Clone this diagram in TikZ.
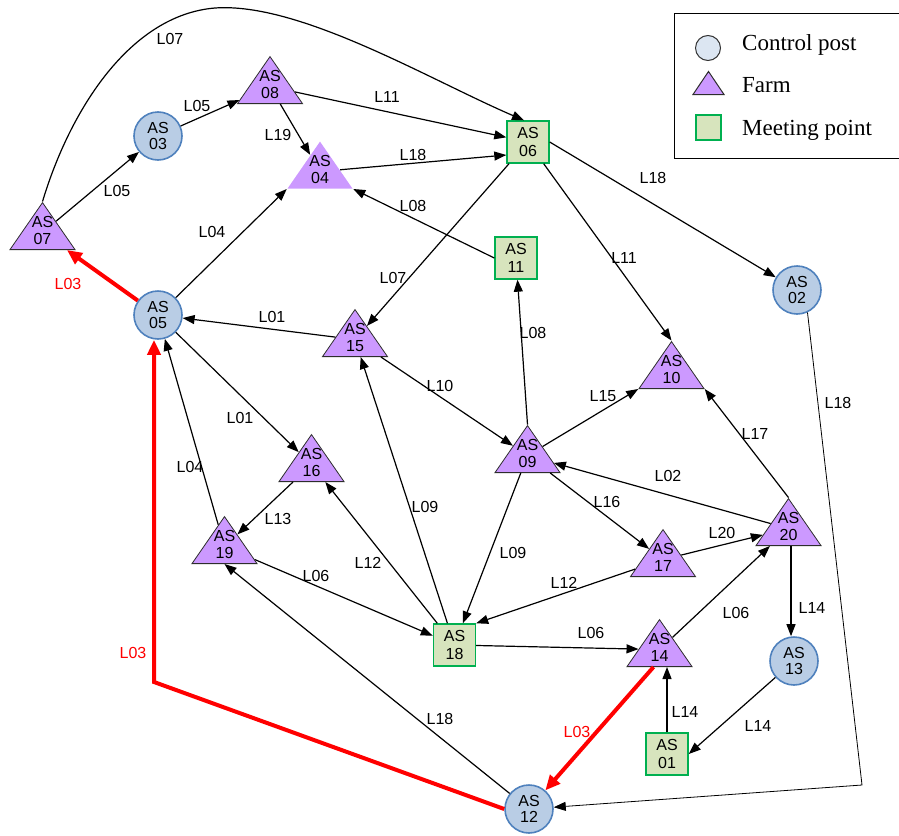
\documentclass[tikz,border=0pt]{standalone}
\usepackage{fontspec}
\setmainfont{Liberation Serif}
\setsansfont{Liberation Sans}
\usetikzlibrary{shapes.geometric,arrows.meta}
\definecolor{cpfill}{RGB}{185,205,229}
\definecolor{cpborder}{RGB}{79,129,189}
\definecolor{farmfill}{RGB}{204,153,255}
\definecolor{farmborder}{RGB}{45,45,45}
\definecolor{meetfill}{RGB}{215,228,189}
\definecolor{meetborder}{RGB}{0,176,80}
\definecolor{legcp}{RGB}{220,230,242}
\definecolor{redline}{RGB}{255,0,0}
\newcommand{\asfont}{\sffamily\fontsize{16}{16.5}\selectfont}
\newcommand{\sqfont}{\sffamily\fontsize{16}{18.5}\selectfont}
\newcommand{\lblfont}{\sffamily\fontsize{16}{17}\selectfont}
\newcommand{\legfont}{\rmfamily\fontsize{23}{25}\selectfont}
\newcommand{\tritext}[1]{\makebox[0pt]{\raisebox{-4.5pt}[0pt][0pt]{\asfont\begin{tabular}{@{}c@{}}AS\\#1\end{tabular}}}}
\begin{document}
\begin{tikzpicture}[x=1pt,y=-1pt,
  cpost/.style={circle, draw=cpborder, fill=cpfill, line width=1.6pt, minimum size=48pt, inner sep=0pt, font=\asfont, align=center},
  farm/.style={isosceles triangle, isosceles triangle stretches, shape border rotate=90, minimum width=65pt, minimum height=47pt, inner sep=0pt, draw=farmborder, fill=farmfill, line width=0.8pt, anchor=lower side},
  farmplain/.style={farm, draw=none},
  meet/.style={rectangle, draw=meetborder, fill=meetfill, line width=1.4pt, minimum size=42pt, inner sep=0pt, font=\sqfont, align=center},
  edge/.style={line width=1.2pt, -{Triangle[length=12pt,width=9pt]}},
  rededge/.style={draw=redline, line width=4pt, -{Triangle[length=15pt,width=13pt]}},
  thinedge/.style={line width=0.8pt, -{Triangle[length=12pt,width=9pt]}},
  lbl/.style={font=\lblfont, inner sep=1pt},
  redlbl/.style={lbl, text=redline},
  legtext/.style={font=\legfont, anchor=base west, inner sep=0pt},
]
\useasboundingbox (0,0) rectangle (899,835);

% legend
\node[draw, line width=1.2pt, minimum width=229pt, minimum height=145pt, anchor=north west, inner sep=0pt] (legend) at (674,13) {};
\node[circle, draw=black!80, fill=legcp, line width=1pt, minimum size=25pt, inner sep=0pt] (lgc) at (708,48) {};
\node[farm, minimum width=31pt, minimum height=23pt, line width=1pt] (lgt) at (708.5,95) {};
\node[rectangle, draw=meetborder, fill=meetfill, line width=1.4pt, minimum size=25pt, inner sep=0pt] (lgs) at (708.5,127.5) {};
\node[legtext] (lg1) at (742,50) {Control post};
\node[legtext] (lg2) at (742,92) {Farm};
\node[legtext] (lg3) at (742,135) {Meeting point};

% control posts
\node[cpost] (n02) at (797,290) {AS\\02};
\node[cpost] (n03) at (158,136) {AS\\03};
\node[cpost] (n05) at (158,315) {AS\\05};
\node[cpost] (n12) at (529,809) {AS\\12};
\node[cpost] (n13) at (794,661) {AS\\13};
% meeting points
\node[meet] (n01) at (667,754) {AS\\01};
\node[meet] (n06) at (528,142) {AS\\06};
\node[meet] (n11) at (516,258) {AS\\11};
\node[meet] (n18) at (454.5,645) {AS\\18};
% farms
\node[farmplain] (n04) at (320,189) {\tritext{04}};
\node[farm] (n07) at (42.5,250) {\tritext{07}};
\node[farm] (n08) at (270,104) {\tritext{08}};
\node[farm] (n09) at (527.5,473) {\tritext{09}};
\node[farm] (n10) at (671.5,389) {\tritext{10}};
\node[farm] (n14) at (659.5,667) {\tritext{14}};
\node[farm] (n15) at (355,357) {\tritext{15}};
\node[farm] (n16) at (311.5,482) {\tritext{16}};
\node[farm] (n17) at (663,577) {\tritext{17}};
\node[farm] (n19) at (224.5,564) {\tritext{19}};
\node[farm] (n20) at (788.5,546) {\tritext{20}};

% connectors
\coordinate (k07) at (215,8);
\draw[edge] (n07.apex) .. controls (70,110) and (130,15) .. (k07) .. controls (300,2) and (430,80) .. ([xshift=-4pt]n06.north);
\draw[edge] (n07) -- (n03);
\draw[edge] (n03) -- (n08);
\draw[edge] (n08) -- (n06);
\draw[edge] (n08) -- (n04);
\draw[edge] (n04) -- ([yshift=-13pt]n06.west);
\draw[edge] (n11.west) -- (n04.right corner);
\draw[edge] (n06) -- (n15);
\draw[edge] (n06) -- (n10.apex);
\draw[edge] (n06.east) -- (n02);
\draw[edge] (n05) -- (n04.left corner);
\draw[rededge] (n05) -- (n07);
\draw[edge] (n15) -- (n05);
\draw[edge] (n05) -- (n16);
\draw[edge] (n19) -- (n05);
\draw[edge] (n16) -- (n19);
\draw[edge] (n15) -- (n09);
\draw[edge] (n18) -- (n15);
\draw[edge] (n18) -- (n16);
\draw[edge] (n19) -- (n18);
\draw[edge] (n12) -- (n19.lower side);
\draw[edge] (n09.apex) -- (n11);
\draw[edge] (n09) -- (n10.left corner);
\draw[edge] (n20) -- (n09);
\draw[edge] (n09) -- (n17);
\draw[edge] (n09) -- (n18);
\draw[edge] (n20.apex) -- (n10.right corner);
\draw[edge] (n17) -- (n20);
\draw[edge] (n17) -- (n18.north east);
\draw[edge] (n18) -- (n14);
\draw[edge] (n14) -- (n20);
\draw[edge] ([xshift=2.5pt]n20.lower side) -- ([xshift=-3pt]n13.north);
\draw[edge] (n13) -- (n01.east);
\draw[edge] (n01.north) -- (n01.north |- n14.lower side);
\draw[rededge] ([xshift=-6pt]n14.lower side) -- (n12);
\coordinate (k03) at (154,682);
\draw[rededge] (n12.west) -- (k03) -- (k03 |- n05.south);
\coordinate (k18) at (862,785);
\draw[thinedge] (n02.-65) -- (k18) -- (n12);

% labels
\node[lbl] (e01) at (170,39) {L07};
\node[lbl] (e02) at (197,106) {L05};
\node[lbl] (e03) at (117,191) {L05};
\node[lbl] (e04) at (387,97) {L11};
\node[lbl] (e05) at (278,135) {L19};
\node[lbl] (e06) at (413,155) {L18};
\node[lbl] (e07) at (212,232) {L04};
\node[lbl] (e08) at (413,206) {L08};
\node[redlbl] (e09) at (68,284) {L03};
\node[lbl] (e10) at (393,278) {L07};
\node[lbl] (e11) at (653,178) {L18};
\node[lbl] (e12) at (624,258) {L11};
\node[lbl] (e13) at (272,317) {L01};
\node[lbl] (e14) at (240,418) {L01};
\node[lbl] (e15) at (190,467) {L04};
\node[lbl] (e16) at (278,519) {L13};
\node[lbl] (e17) at (425,507) {L09};
\node[lbl] (e18) at (440,386) {L10};
\node[lbl] (e19) at (533,333) {L08};
\node[lbl] (e20) at (603,396) {L15};
\node[lbl] (e21) at (755,434) {L17};
\node[lbl] (e22) at (668,476) {L02};
\node[lbl] (e23) at (607,502) {L16};
\node[lbl] (e24) at (722,533) {L20};
\node[lbl] (e25) at (838,403) {L18};
\node[lbl] (e26) at (513,553) {L09};
\node[lbl] (e27) at (368,563) {L12};
\node[lbl] (e28) at (316,576) {L06};
\node[redlbl] (e29) at (133,653) {L03};
\node[lbl] (e30) at (440,719) {L18};
\node[lbl] (e31) at (564,583) {L12};
\node[lbl] (e32) at (591,633) {L06};
\node[lbl] (e33) at (736,613) {L06};
\node[lbl] (e34) at (812,608) {L14};
\node[lbl] (e35) at (685,712) {L14};
\node[lbl] (e36) at (758,726) {L14};
\node[redlbl] (e37) at (577,732) {L03};
\end{tikzpicture}
\end{document}
